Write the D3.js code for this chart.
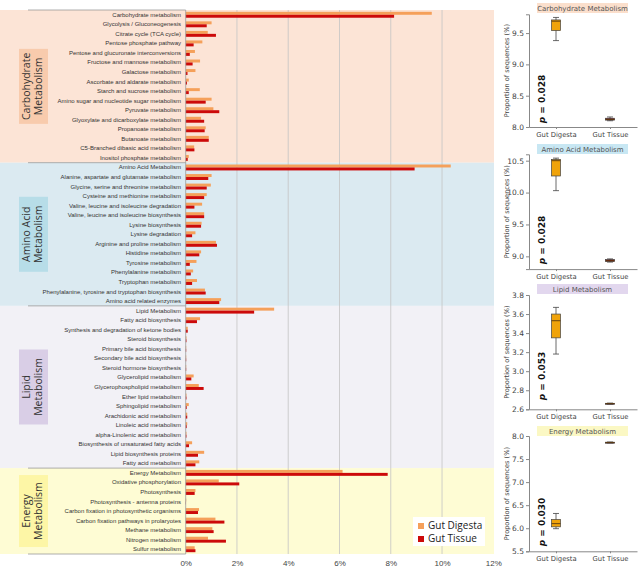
<!DOCTYPE html>
<html>
<head>
<meta charset="utf-8">
<title>Metabolism pathways</title>
<script src="https://d3js.org/d3.v7.min.js"></script>
<style>
  body { margin: 0; background: #fff; }
  svg { font-family: "Liberation Sans", Arial, sans-serif; }
  .cat text { font-size: 6px; fill: #333; }
  .xax text { font-size: 8px; fill: #444; }
  .grp text { font-size: 10.5px; fill: #333; font-family: "Open Sans", sans-serif; }
  .bx text { font-family: "DejaVu Sans", sans-serif; }
</style>
</head>
<body>
<svg width="640" height="570"></svg>
<script>
// ---- data ----
const groupNames = ["Carbohydrate Metabolism", "Amino Acid Metabolism", "Lipid Metabolism", "Energy Metabolism"];
const groupLines = [["Carbohydrate", "Metabolism"], ["Amino Acid", "Metabolism"], ["Lipid", "Metabolism"], ["Energy", "Metabolism"]];

const carbPathways = ["Carbohydrate metabolism", "Glycolysis / Gluconeogenesis", "Citrate cycle (TCA cycle)", "Pentose phosphate pathway",
  "Pentose and glucuronate interconversions", "Fructose and mannose metabolism", "Galactose metabolism", "Ascorbate and aldarate metabolism",
  "Starch and sucrose metabolism", "Amino sugar and nucleotide sugar metabolism", "Pyruvate metabolism", "Glyoxylate and dicarboxylate metabolism",
  "Propanoate metabolism", "Butanoate metabolism", "C5-Branched dibasic acid metabolism", "Inositol phosphate metabolism"];
const carbDigesta = [9.60, 1.01, 0.86, 0.65, 0.36, 0.56, 0.38, 0.12, 0.55, 1.01, 1.08, 0.60, 0.78, 0.90, 0.33, 0.12];
const carbTissue  = [8.13, 0.82, 1.18, 0.31, 0.16, 0.27, 0.07, 0.05, 0.12, 0.78, 1.31, 0.72, 0.74, 0.90, 0.34, 0.08];

const aminoPathways = ["Amino Acid Metabolism", "Alanine, aspartate and glutamate metabolism", "Glycine, serine and threonine metabolism",
  "Cysteine and methionine metabolism", "Valine, leucine and isoleucine degradation", "Valine, leucine and isoleucine biosynthesis",
  "Lysine biosynthesis", "Lysine degradation", "Arginine and proline metabolism", "Histidine metabolism", "Tyrosine metabolism",
  "Phenylalanine metabolism", "Tryptophan metabolism", "Phenylalanine, tyrosine and tryptophan biosynthesis", "Amino acid related enzymes"];
const aminoDigesta = [10.34, 1.01, 0.98, 0.82, 0.64, 0.72, 0.62, 0.38, 1.18, 0.60, 0.42, 0.29, 0.44, 0.75, 1.38];
const aminoTissue  = [8.93, 0.88, 0.82, 0.72, 0.34, 0.72, 0.60, 0.25, 1.22, 0.53, 0.16, 0.20, 0.25, 0.78, 1.31];

const lipidPathways = ["Lipid Metabolism", "Fatty acid biosynthesis", "Synthesis and degradation of ketone bodies", "Steroid biosynthesis",
  "Primary bile acid biosynthesis", "Secondary bile acid biosynthesis", "Steroid hormone biosynthesis", "Glycerolipid metabolism",
  "Glycerophospholipid metabolism", "Ether lipid metabolism", "Sphingolipid metabolism", "Arachidonic acid metabolism",
  "Linoleic acid metabolism", "alpha-Linolenic acid metabolism", "Biosynthesis of unsaturated fatty acids", "Lipid biosynthesis proteins",
  "Fatty acid metabolism"];
const lipidDigesta = [3.45, 0.56, 0.08, 0.03, 0.02, 0.02, 0.02, 0.31, 0.51, 0.03, 0.12, 0.06, 0.06, 0.03, 0.25, 0.72, 0.53];
const lipidTissue  = [2.67, 0.44, 0.08, 0.03, 0.02, 0.02, 0.02, 0.22, 0.70, 0.03, 0.04, 0.06, 0.04, 0.03, 0.13, 0.48, 0.38];

const energyPathways = ["Energy Metabolism", "Oxidative phosphorylation", "Photosynthesis", "Photosynthesis - antenna proteins",
  "Carbon fixation in photosynthetic organisms", "Carbon fixation pathways in prolaryotes", "Methane metabolism", "Nitrogen metabolism",
  "Sulfur metabolism"];
const energyDigesta = [6.12, 1.29, 0.38, 0.02, 0.52, 1.16, 1.04, 0.87, 0.35];
const energyTissue  = [7.88, 2.09, 0.35, 0.01, 0.48, 1.51, 1.09, 1.57, 0.38];

const xTicks = [0, 2, 4, 6, 8, 10, 12];
const seriesNames = ["Gut Digesta", "Gut Tissue"];

// box plot stats: [min, q1, median, q3, max]
const boxDigesta = [[9.38, 9.54, 9.69, 9.71, 9.75], [10.03, 10.26, 10.50, 10.52, 10.54], [3.18, 3.35, 3.53, 3.60, 3.67], [5.99, 6.03, 6.10, 6.19, 6.32]];
const boxTissue  = [[8.10, 8.11, 8.12, 8.14, 8.16], [8.91, 8.92, 8.93, 8.95, 8.96], [2.655, 2.657, 2.66, 2.663, 2.665], [7.85, 7.855, 7.86, 7.865, 7.87]];
const boxDomains = [[8.0, 9.8], [8.8, 10.6], [2.6, 3.8], [5.5, 8.0]];
const boxTicks = [[8.0, 8.5, 9.0, 9.5], [9.0, 9.5, 10.0, 10.5], [2.6, 2.8, 3.0, 3.2, 3.4, 3.6, 3.8], [5.5, 6.0, 6.5, 7.0, 7.5, 8.0]];
const pValues = ["0.028", "0.028", "0.053", "0.030"];

// ---- build rows ----
const groupData = [
  [carbPathways, carbDigesta, carbTissue],
  [aminoPathways, aminoDigesta, aminoTissue],
  [lipidPathways, lipidDigesta, lipidTissue],
  [energyPathways, energyDigesta, energyTissue]
];
const rows = [];
groupData.forEach((g, gi) => g[0].forEach((name, i) =>
  rows.push({ id: gi + "-" + i, name: name, group: gi, digesta: g[1][i], tissue: g[2][i] })));

const bandFill = ["#fce4d6", "#dbeaf1", "#f2f1f6", "#fefcd4"];
const boxFill = ["#f8cbad", "#b7dde8", "#d9cee6", "#fdf6a6"];
const titleFill = ["#fbdfcc", "#c8e7f3", "#e2d7ee", "#fbf8c4"];
const orange = "#f5a05a", red = "#cc0a0a";

const svg = d3.select("svg");

const x = d3.scaleLinear().domain([0, 12]).range([185.7, 493.3]);
const y = d3.scaleBand().domain(rows.map(d => d.id)).range([10, 554]);
const bw = y.bandwidth();

// group bands
const spans = groupNames.map((n, gi) => {
  const r = rows.filter(d => d.group === gi);
  return { gi: gi, y0: y(r[0].id), y1: y(r[r.length - 1].id) + bw };
});

svg.append("g").selectAll("rect").data(spans).join("rect")
  .attr("x", 0).attr("width", 494)
  .attr("y", d => d.y0).attr("height", d => d.y1 - d.y0)
  .attr("fill", d => bandFill[d.gi]);

// gridlines
svg.append("g").selectAll("line").data(xTicks.filter(t => t > 0 && t < 12)).join("line")
  .attr("x1", d => x(d)).attr("x2", d => x(d))
  .attr("y1", 10).attr("y2", 554)
  .attr("stroke", "#c4c4c4").attr("stroke-width", 0.8);

// bars
const barH = bw * 0.31;
const bars = svg.append("g");
bars.selectAll(".bd").data(rows).join("rect")
  .attr("x", x(0)).attr("y", d => y(d.id) + bw / 2 - barH)
  .attr("width", d => x(d.digesta) - x(0)).attr("height", barH)
  .attr("fill", orange);
bars.selectAll(".bt").data(rows).join("rect")
  .attr("x", x(0)).attr("y", d => y(d.id) + bw / 2)
  .attr("width", d => x(d.tissue) - x(0)).attr("height", barH)
  .attr("fill", red);

// category axis
svg.append("line").attr("x1", x(0)).attr("x2", x(0)).attr("y1", 10).attr("y2", 554)
  .attr("stroke", "#9a9a9a").attr("stroke-width", 0.8);
const seps = [spans[0].y0].concat(spans.map(s => s.y1));
svg.append("g").selectAll("line").data(seps).join("line")
  .attr("x1", 28).attr("x2", x(0)).attr("y1", d => d).attr("y2", d => d)
  .attr("stroke", "#9a9a9a").attr("stroke-width", 0.8);

svg.append("g").attr("class", "cat").selectAll("text").data(rows).join("text")
  .attr("x", 181).attr("y", d => y(d.id) + bw / 2 + 2)
  .attr("text-anchor", "end")
  .text(d => d.name);

// group labels
const grp = svg.append("g").attr("class", "grp");
spans.forEach(s => {
  const cy = (s.y0 + s.y1) / 2;
  const h = s.gi === 3 ? 72 : 75;
  grp.append("rect").attr("x", 19).attr("y", cy - h / 2).attr("width", 29).attr("height", h)
    .attr("fill", boxFill[s.gi]);
  groupLines[s.gi].forEach((t, li) => {
    grp.append("text")
      .attr("transform", `translate(${30 + li * 12},${cy}) rotate(-90)`)
      .attr("text-anchor", "middle")
      .text(t);
  });
});

// x axis
const xAxis = svg.append("g").attr("class", "xax").attr("transform", "translate(0,554)")
  .call(d3.axisBottom(x).tickValues(xTicks).tickFormat(d => d + "%").tickSize(0).tickPadding(6));
xAxis.select(".domain").remove();
xAxis.selectAll("text").style("font-size", "8px").style("fill", "#444");

// legend
const lg = svg.append("g").attr("transform", "translate(413,517)");
lg.append("rect").attr("width", 72).attr("height", 29).attr("fill", "#fff");
seriesNames.forEach((n, i) => {
  lg.append("rect").attr("x", 5).attr("y", 6 + i * 13).attr("width", 6).attr("height", 6)
    .attr("fill", i === 0 ? orange : red);
  lg.append("text").attr("x", 15).attr("y", 12 + i * 13).attr("font-size", 10)
    .attr("font-family", "Open Sans, sans-serif").attr("fill", "#222").text(n);
});

// ---- box plots ----
const panelRanges = [[127, 14.3], [269.1, 154.3], [409.3, 295], [551.3, 436]];
const titleY = [3, 144, 284, 426];
const pCenter = [99, 240, 376, 522];
const bxX = d3.scalePoint().domain(seriesNames).range([529, 637]).padding(0.5);

groupNames.forEach((gname, pi) => {
  const g = svg.append("g").attr("class", "bx");
  const ys = d3.scaleLinear().domain(boxDomains[pi]).range(panelRanges[pi]);
  const yAx = g.append("g").attr("transform", "translate(529,0)")
    .call(d3.axisLeft(ys).tickValues(boxTicks[pi]).tickFormat(d3.format(".1f")).tickSize(3).tickPadding(2));
  yAx.selectAll("text").attr("font-size", 7.5).attr("fill", "#444");
  yAx.selectAll("line, path").attr("stroke", "#888");
  const xAx = g.append("g").attr("transform", `translate(0,${panelRanges[pi][0]})`)
    .call(d3.axisBottom(bxX).tickSize(2).tickPadding(3).tickSizeOuter(0));
  xAx.selectAll("text").attr("font-size", 6.8).attr("fill", "#444");
  xAx.selectAll("line, path").attr("stroke", "#888");

  // title
  g.append("rect").attr("x", 537).attr("y", titleY[pi]).attr("width", 91).attr("height", 10)
    .attr("fill", titleFill[pi]);
  g.append("text").attr("x", 582.5).attr("y", titleY[pi] + 7.6).attr("text-anchor", "middle")
    .attr("font-size", 7).attr("fill", "#555").text(gname);

  // y label
  const ymid = (panelRanges[pi][0] + panelRanges[pi][1]) / 2;
  g.append("text").attr("transform", `translate(509,${ymid}) rotate(-90)`)
    .attr("text-anchor", "middle").attr("font-size", 6.6).attr("fill", "#444")
    .text("Proportion of sequences (%)");

  // p-value
  const pt = g.append("text").attr("transform", `translate(545,${pCenter[pi]}) rotate(-90)`)
    .attr("text-anchor", "middle").attr("font-size", 9).attr("font-weight", "bold").attr("fill", "#111");
  pt.append("tspan").attr("font-style", "italic").text("p");
  pt.append("tspan").text(" = " + pValues[pi]);

  // boxes
  [[boxDigesta[pi], "#f0a30a"], [boxTissue[pi], "#7d1212"]].forEach((b, si) => {
    const s = b[0], cx = bxX(seriesNames[si]), w = 9;
    g.append("line").attr("x1", cx).attr("x2", cx).attr("y1", ys(s[0])).attr("y2", ys(s[4]))
      .attr("stroke", "#444").attr("stroke-width", 0.8);
    [s[0], s[4]].forEach(v => g.append("line").attr("x1", cx - 3).attr("x2", cx + 3)
      .attr("y1", ys(v)).attr("y2", ys(v)).attr("stroke", "#444").attr("stroke-width", 0.8));
    g.append("rect").attr("x", cx - w / 2).attr("width", w)
      .attr("y", ys(s[3])).attr("height", Math.max(ys(s[1]) - ys(s[3]), 1))
      .attr("fill", b[1]).attr("stroke", "#444").attr("stroke-width", 0.7);
    g.append("line").attr("x1", cx - w / 2).attr("x2", cx + w / 2)
      .attr("y1", ys(s[2])).attr("y2", ys(s[2])).attr("stroke", "#5a3a10").attr("stroke-width", 0.9);
  });
});
</script>
</body>
</html>
